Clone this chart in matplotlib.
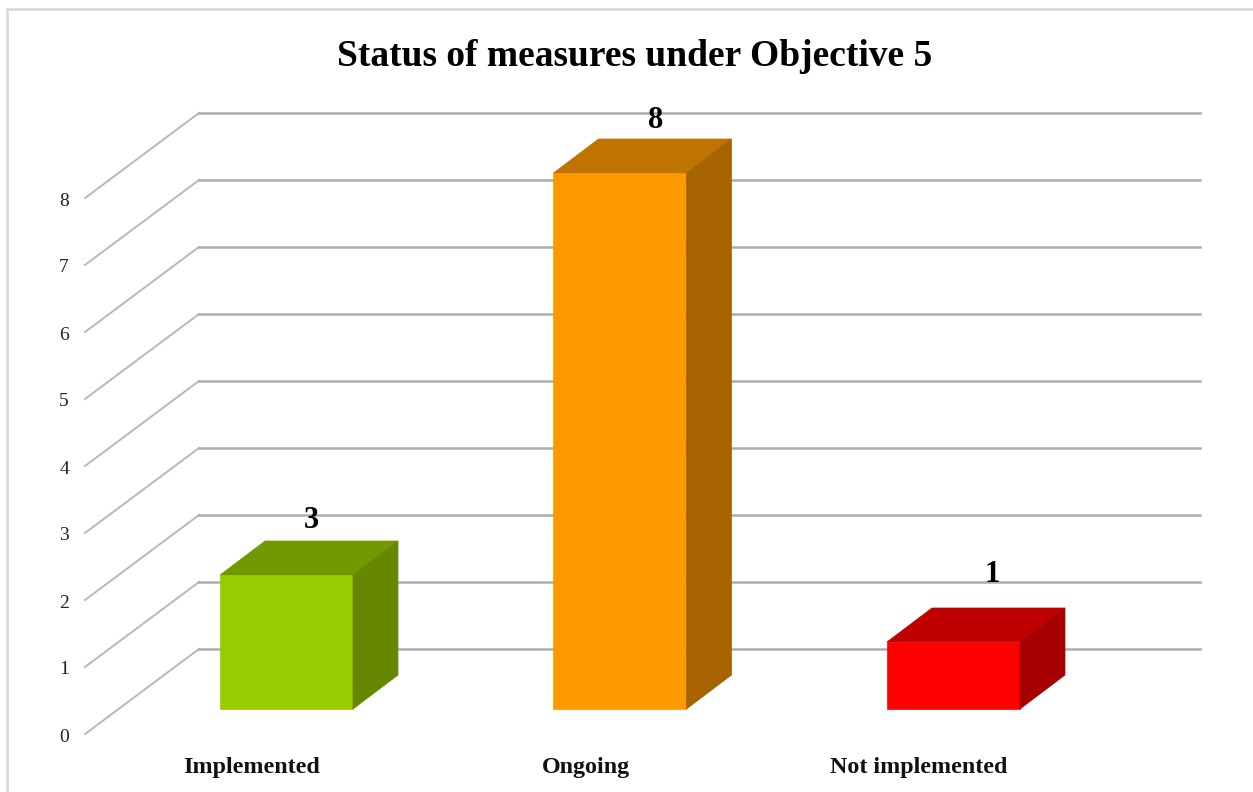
import matplotlib
matplotlib.use("Agg")
import matplotlib.pyplot as plt
from matplotlib.patches import Polygon

# DATA
categories = ["Implemented", "Ongoing", "Not implemented"]
bar_heights = [2, 8, 1]        # height the bars are drawn at in the picture
bar_labels = ["3", "8", "1"]   # the label on the first bar does not agree with its height
y_ticks = [0, 1, 2, 3, 4, 5, 6, 7, 8]
title = "Status of measures under Objective 5"

front_colors = ["#99CC00", "#FF9900", "#FF0000"]
top_colors = ["#739900", "#BF7300", "#BF0000"]
side_colors = ["#668800", "#A66300", "#A60000"]
grid_color = "#ADADAD"

# one category is 333.5 px wide, one value is 67 px tall
px_x = 333.5
px_y = 67.0
bar_w = 133 / px_x
depth_x = 45 / px_x
depth_y = 34 / px_y
front_x = -(286.5 - 85) / px_x   # left end of the diagonals at the front of the floor
back_x = -(286.5 - 199) / px_x   # where the diagonal meets the wall
wall_end = (1200 - 286.5) / px_x
front_y = -25 / px_y             # front of the floor sits below the bar base
back_y = 60 / px_y               # wall line sits above the bar base

# the value labels are not placed the same way on each bar (px from the bar centre / top)
label_dx = [25, 36, 38.5]
label_dy = [22, 20, 36]

plt.rcParams["font.family"] = ["Liberation Serif", "DejaVu Serif"]

fig = plt.figure(figsize=(12.53, 7.92), dpi=100)
ax = fig.add_axes([0, 0, 1, 1])
ax.set_xlim(-286.5 / px_x, (1253 - 286.5) / px_x)
ax.set_ylim(-83 / px_y, 709 / px_y)
ax.axis("off")

# outer frame of the chart, only top and left are in view
ax.plot([7 / 1253, 7 / 1253, 1], [0, 1 - 9 / 792, 1 - 9 / 792], transform=ax.transAxes,
        color="#DADADA", linewidth=2.0, solid_joinstyle="miter")

# walls
for v in y_ticks:
    ax.plot([front_x, back_x], [v + front_y, v + back_y],
            color="#B8B8B8", linewidth=1.4, zorder=1)
    ax.plot([back_x, wall_end], [v + back_y, v + back_y],
            color=grid_color, linewidth=1.8, zorder=1)
    ax.annotate(str(v), (front_x, v + front_y), xytext=(-16, -3), textcoords="offset pixels",
                ha="right", va="center", fontsize=14, color="#222222")

# bars, three faces each
for i in range(len(categories)):
    h = bar_heights[i]
    left = i - bar_w / 2
    right = i + bar_w / 2
    front = Polygon([(left, 0), (right, 0), (right, h), (left, h)], facecolor=front_colors[i],
                    edgecolor=front_colors[i], linewidth=0.5, zorder=3)
    top = Polygon([(left, h), (right, h), (right + depth_x, h + depth_y), (left + depth_x, h + depth_y)],
                  facecolor=top_colors[i], edgecolor=top_colors[i], linewidth=0.5, zorder=3)
    side = Polygon([(right, 0), (right + depth_x, depth_y), (right + depth_x, h + depth_y), (right, h)],
                   facecolor=side_colors[i], edgecolor=side_colors[i], linewidth=0.5, zorder=3)
    ax.add_patch(front)
    ax.add_patch(top)
    ax.add_patch(side)

    ax.annotate(bar_labels[i], (i, h + depth_y), xytext=(label_dx[i], label_dy[i] - 2), textcoords="offset pixels",
                ha="center", va="center", fontsize=22, fontweight="bold", color="black", zorder=4)
    ax.annotate(categories[i], (i, 0), xytext=(-34.5, -58), textcoords="offset pixels",
                ha="center", va="center", fontsize=17.3, fontweight="bold", color="#111111")

fig.text(635 / 1253, 1 - 56 / 792, title, ha="center", va="center", fontsize=27, fontweight="bold", color="black")

fig.savefig("out.png", dpi=100)
